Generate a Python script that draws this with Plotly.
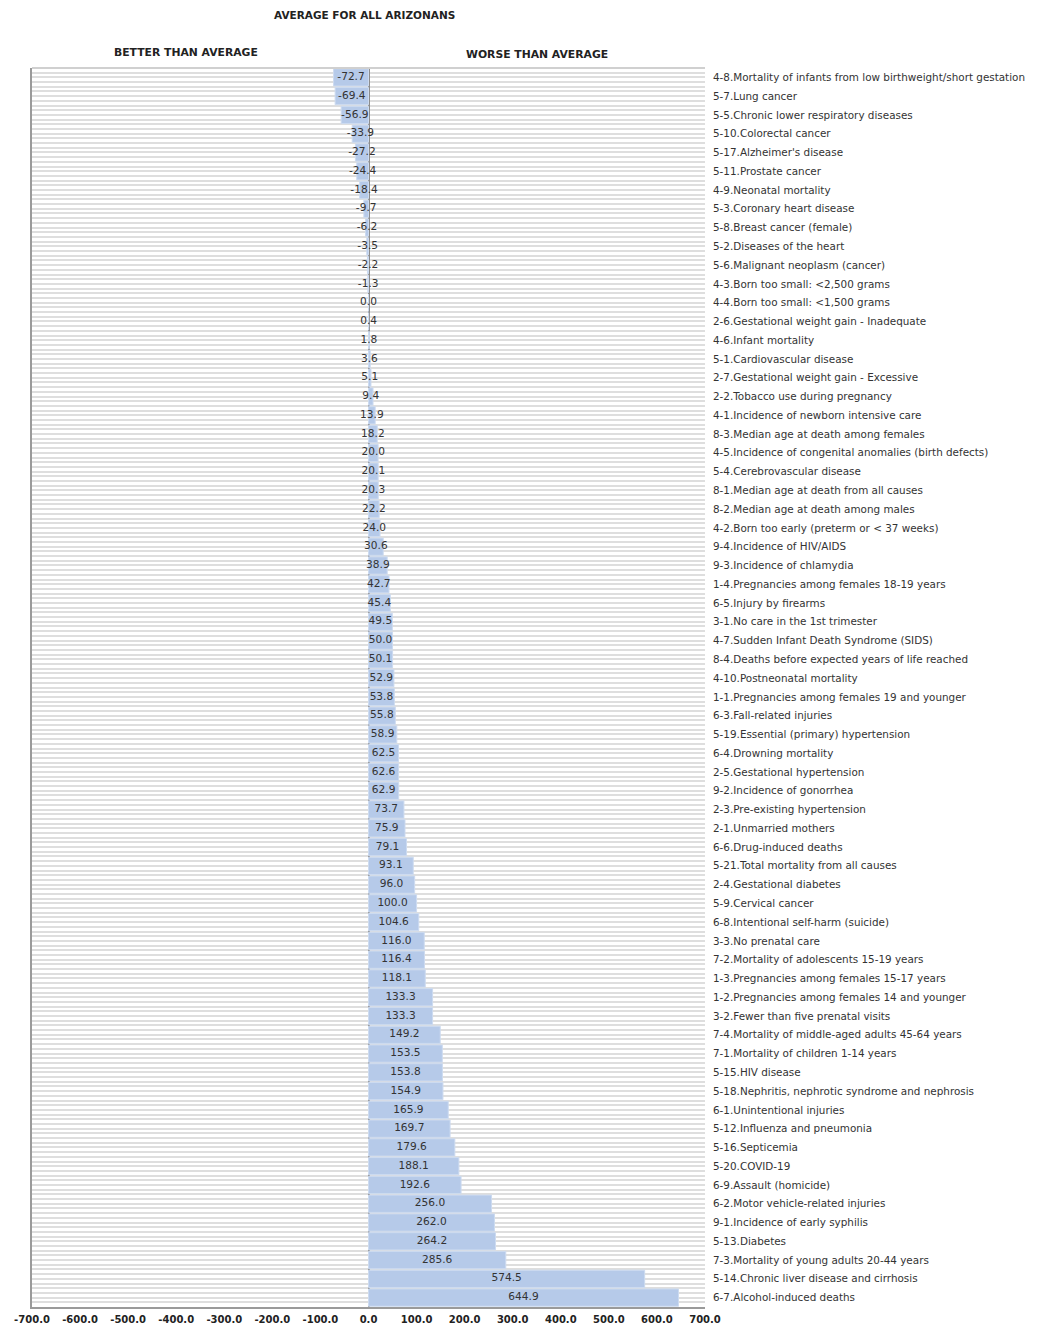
import plotly.graph_objects as go

categories = [
    "4-8.Mortality of infants from low birthweight/short gestation",
    "5-7.Lung cancer",
    "5-5.Chronic lower respiratory diseases",
    "5-10.Colorectal cancer",
    "5-17.Alzheimer's disease",
    "5-11.Prostate cancer",
    "4-9.Neonatal mortality",
    "5-3.Coronary heart disease",
    "5-8.Breast cancer (female)",
    "5-2.Diseases of the heart",
    "5-6.Malignant neoplasm (cancer)",
    "4-3.Born too small: <2,500 grams",
    "4-4.Born too small: <1,500 grams",
    "2-6.Gestational weight gain - Inadequate",
    "4-6.Infant mortality",
    "5-1.Cardiovascular disease",
    "2-7.Gestational weight gain - Excessive",
    "2-2.Tobacco use during pregnancy",
    "4-1.Incidence of newborn intensive care",
    "8-3.Median age at death among females",
    "4-5.Incidence of congenital anomalies (birth defects)",
    "5-4.Cerebrovascular disease",
    "8-1.Median age at death from all causes",
    "8-2.Median age at death among males",
    "4-2.Born too early (preterm or < 37 weeks)",
    "9-4.Incidence of HIV/AIDS",
    "9-3.Incidence of chlamydia",
    "1-4.Pregnancies among females 18-19 years",
    "6-5.Injury by firearms",
    "3-1.No care in the 1st trimester",
    "4-7.Sudden Infant Death Syndrome (SIDS)",
    "8-4.Deaths before expected years of life reached",
    "4-10.Postneonatal mortality",
    "1-1.Pregnancies among females 19 and younger",
    "6-3.Fall-related injuries",
    "5-19.Essential (primary) hypertension",
    "6-4.Drowning mortality",
    "2-5.Gestational hypertension",
    "9-2.Incidence of gonorrhea",
    "2-3.Pre-existing hypertension",
    "2-1.Unmarried mothers",
    "6-6.Drug-induced deaths",
    "5-21.Total mortality from all causes",
    "2-4.Gestational diabetes",
    "5-9.Cervical cancer",
    "6-8.Intentional self-harm (suicide)",
    "3-3.No prenatal care",
    "7-2.Mortality of adolescents 15-19 years",
    "1-3.Pregnancies among females 15-17 years",
    "1-2.Pregnancies among females 14 and younger",
    "3-2.Fewer than five prenatal visits",
    "7-4.Mortality of middle-aged adults 45-64 years",
    "7-1.Mortality of children 1-14 years",
    "5-15.HIV disease",
    "5-18.Nephritis, nephrotic syndrome and nephrosis",
    "6-1.Unintentional injuries",
    "5-12.Influenza and pneumonia",
    "5-16.Septicemia",
    "5-20.COVID-19",
    "6-9.Assault (homicide)",
    "6-2.Motor vehicle-related injuries",
    "9-1.Incidence of early syphilis",
    "5-13.Diabetes",
    "7-3.Mortality of young adults 20-44 years",
    "5-14.Chronic liver disease and cirrhosis",
    "6-7.Alcohol-induced deaths",
]

values = [
    -72.7, -69.4, -56.9, -33.9, -27.2, -24.4, -18.4, -9.7, -6.2, -3.5,
    -2.2, -1.3, 0.0, 0.4, 1.8, 3.6, 5.1, 9.4, 13.9, 18.2,
    20.0, 20.1, 20.3, 22.2, 24.0, 30.6, 38.9, 42.7, 45.4, 49.5,
    50.0, 50.1, 52.9, 53.8, 55.8, 58.9, 62.5, 62.6, 62.9, 73.7,
    75.9, 79.1, 93.1, 96.0, 100.0, 104.6, 116.0, 116.4, 118.1, 133.3,
    133.3, 149.2, 153.5, 153.8, 154.9, 165.9, 169.7, 179.6, 188.1, 192.6,
    256.0, 262.0, 264.2, 285.6, 574.5, 644.9,
]

x_ticks = [-700, -600, -500, -400, -300, -200, -100, 0, 100, 200, 300, 400, 500, 600, 700]
x_tick_labels = [f"{t:.1f}" for t in x_ticks]

FONT = "DejaVu Sans"
n = len(categories)
stripes_per_row = 4

# page body has an 8px default margin; compensate so the plot lands where the reference has it
PAGE = 8
W, H = 1038 - PAGE, 1328 - PAGE
ML, MT, MR, MB = 32 - PAGE, 68 - PAGE, 333, 21
plot_h = H - MT - MB
plot_w = W - ML - MR


def px_x(x):
    return (x - PAGE - ML) / plot_w


def px_y(y):
    return 1 + (MT - (y - PAGE)) / plot_h


fig = go.Figure()

# invisible helper trace for the striped background axis
fig.add_trace(go.Scatter(x=[0], y=[0], xaxis="x", yaxis="y2", mode="markers",
                         marker=dict(opacity=0), hoverinfo="skip", showlegend=False))

fig.add_trace(go.Bar(
    x=values, y=categories, orientation="h",
    marker=dict(color="#b6cae9", line=dict(color="#cddbf0", width=1)),
    showlegend=False, hoverinfo="x+y",
))

fig.add_trace(go.Scatter(
    x=[v / 2 for v in values], y=categories, mode="text",
    text=[f"{v:.1f}" for v in values],
    textfont=dict(family=FONT, size=10.6, color="#333333"),
    textposition="middle center", showlegend=False, hoverinfo="skip",
))

fig.update_layout(
    width=W, height=H,
    margin=dict(l=ML, r=MR, t=MT, b=MB, autoexpand=False),
    paper_bgcolor="white", plot_bgcolor="white",
    bargap=0.08,
    font=dict(family=FONT, size=10.4, color="#333333"),
    xaxis=dict(
        range=[-700, 700], tickvals=x_ticks, ticktext=x_tick_labels,
        tickfont=dict(family=FONT, size=10, color="#222222", weight="bold"),
        showgrid=False, zeroline=True, zerolinecolor="#8c8c8c", zerolinewidth=2,
        showline=True, linecolor="#9a9a9a", linewidth=2,
        ticks="", ticklabelstandoff=2, fixedrange=True, automargin=False,
    ),
    yaxis=dict(
        categoryorder="array", categoryarray=categories,
        range=[n - 0.5, -0.5], side="right",
        showgrid=False, zeroline=False, ticks="",
        ticklabelstandoff=7, automargin=False,
        tickfont=dict(family=FONT, size=10.4, color="#333333"),
    ),
    yaxis2=dict(
        overlaying="y", side="left", range=[0, n * stripes_per_row], dtick=1,
        showticklabels=False, showgrid=True, gridcolor="#dedede", gridwidth=2,
        zeroline=False, showline=True, linecolor="#9a9a9a", linewidth=2,
        ticks="", automargin=False,
    ),
    shapes=[dict(type="line", xref="paper", yref="paper", x0=0, x1=1, y0=1, y1=1,
                 line=dict(color="#d0d0d0", width=2))],
    annotations=[
        dict(text="AVERAGE FOR ALL ARIZONANS", xref="paper", yref="paper",
             x=px_x(364), y=px_y(15), xanchor="center", yanchor="middle",
             showarrow=False, font=dict(family=FONT, size=10.5, color="#222222", weight="bold")),
        dict(text="BETTER THAN AVERAGE", xref="paper", yref="paper",
             x=px_x(186), y=px_y(52), xanchor="center", yanchor="middle",
             showarrow=False, font=dict(family=FONT, size=10.8, color="#222222", weight="bold")),
        dict(text="WORSE THAN AVERAGE", xref="paper", yref="paper",
             x=px_x(537), y=px_y(54), xanchor="center", yanchor="middle",
             showarrow=False, font=dict(family=FONT, size=10.8, color="#222222", weight="bold")),
    ],
)

fig.write_html("out.html")
